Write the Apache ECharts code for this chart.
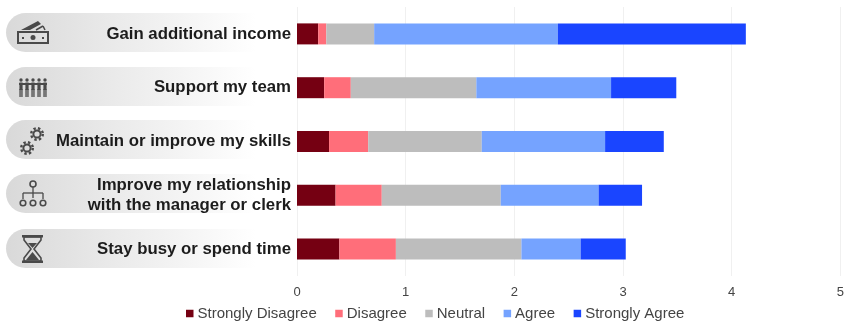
<!DOCTYPE html>
<html><head><meta charset="utf-8">
<style>html,body{margin:0;padding:0;background:#fff}#c{width:847px;height:322px;filter:blur(0.5px)}</style>
<script src="https://cdn.jsdelivr.net/npm/echarts@6/dist/echarts.min.js"></script>
</head><body><div id="c"></div>
<script>
const categories = ['Gain additional income','Support my team','Maintain or improve my skills','Improve my relationship\nwith the manager or clerk','Stay busy or spend time'];
const stronglyDisagree = [0.195,0.25,0.295,0.355,0.39];
const disagree = [0.075,0.245,0.36,0.425,0.52];
const neutral = [0.44,1.155,1.045,1.095,1.155];
const agree = [1.69,1.24,1.135,0.90,0.545];
const stronglyAgree = [1.73,0.60,0.54,0.40,0.415];
const seriesNames = ['Strongly Disagree','Disagree','Neutral','Agree','Strongly Agree'];
const seriesColors = ['#750012','#ff6e7a','#bdbdbd','#75a3ff','#1a45ff'];
const seriesValues = [stronglyDisagree,disagree,neutral,agree,stronglyAgree];

const ic = '#4a4a4a';
const F = {fill:ic}, S = (w)=>({fill:'none',stroke:ic,lineWidth:w});
const rect=(x,y,w,h,st)=>({type:'rect',shape:{x,y,width:w,height:h},style:st||F});
const circ=(cx,cy,r,st)=>({type:'circle',shape:{cx,cy,r},style:st||F});
const line=(a,b,c,d,w)=>({type:'line',shape:{x1:a,y1:b,x2:c,y2:d},style:{stroke:ic,lineWidth:w||1.5}});
const poly=(p,st)=>({type:'polygon',shape:{points:p},style:st||F});
const pills=[13,67,120,174,229].map(y=>({type:'rect',shape:{x:6,y,width:284,height:39,r:[19.5,0,0,19.5]},
  style:{fill:{type:'linear',x:0,y:0,x2:1,y2:0,colorStops:[{offset:0,color:'#d9d9d9'},{offset:0.4,color:'#ebebeb'},{offset:0.88,color:'#ffffff'}]}}}));
const person=(x)=>[circ(x,80,1.7),rect(x-1.6,82.5,3.2,7.5),rect(x-1.6,89,1.3,8),rect(x+0.3,89,1.3,8)];
const icons=[
  rect(18,32,30,11,S(2)),circ(33,37.5,2.5),rect(22,37,2,2),rect(42,37,2,2),
  poly([[21,30],[38,21],[41,24],[30,30]]),line(36,30,43,26,1.5),line(43,26,45,30,1.5),
  ...[21,27,33,39,45].flatMap(person),
  line(19,84,47,84,2),
  circ(37,134,3.6,S(2)),circ(37,134,5.8,{fill:'none',stroke:ic,lineWidth:2.4,lineDash:[2.4,2.2]}),
  circ(27,148,3.6,S(2)),circ(27,148,5.8,{fill:'none',stroke:ic,lineWidth:2.4,lineDash:[2.4,2.2]}),
  circ(33,184,3,S(1.6)),line(33,187,33,198,1.3),line(23,193,43,193,1.3),line(23,193,23,199,1.3),line(43,193,43,199,1.3),
  circ(23,203,2.8,S(1.6)),circ(33,203,2.8,S(1.6)),circ(43,203,2.8,S(1.6)),
  rect(22,235,21,2.5),rect(22,260.5,21,2.5),
  poly([[24,237],[41,237],[41,240],[34,249],[41,258],[41,261],[24,261],[24,258],[31,249],[24,240]],S(1.6)),
  poly([[26,260],[32.5,252],[39,260]]),poly([[28,243],[37,243],[32.5,248]])
];

const chart = echarts.init(document.getElementById('c'),null,{renderer:'canvas'});
chart.setOption({
  animation:false,
  graphic:{elements:[{type:'group',z:-1,silent:true,children:[...pills,...icons]}]},
  legend:{left:186,top:306,itemWidth:7.5,itemHeight:7.5,itemGap:18.5,icon:'rect',padding:0,
    data:seriesNames,textStyle:{fontFamily:'Liberation Sans',fontSize:15,color:'#444',padding:[0,0,0,-1]}},
  grid:{left:297,right:4,top:7,height:269,containLabel:false},
  xAxis:{type:'value',min:0,max:5,interval:1,
    axisLine:{show:false},axisTick:{show:false},
    splitLine:{lineStyle:{color:'#f0f0f0',width:1}},
    axisLabel:{fontFamily:'Liberation Sans',fontSize:13,color:'#444',margin:10}},
  yAxis:{type:'category',inverse:true,data:categories,
    axisLine:{show:false},axisTick:{show:false},
    axisLabel:{fontFamily:'Liberation Sans',fontWeight:'bold',fontSize:16.8,color:'#1c1c1c',margin:6,lineHeight:20,align:'right'}},
  series:seriesValues.map((v,i)=>({name:seriesNames[i],type:'bar',stack:'t',barWidth:21,data:v,
    itemStyle:{color:seriesColors[i]}}))
});
</script></body></html>
